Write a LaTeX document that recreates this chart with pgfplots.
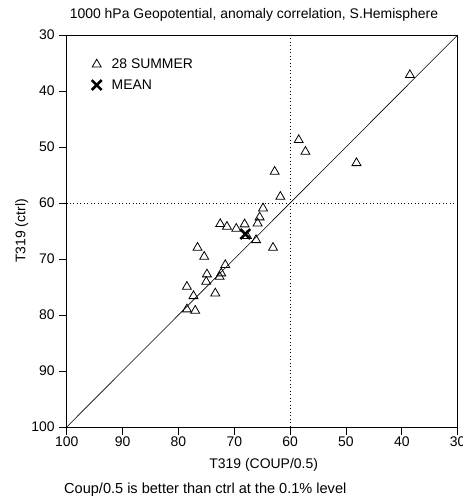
\documentclass[border=0pt]{standalone}
\usepackage{pgfplots}
\pgfplotsset{compat=1.18}
\usepackage{fontspec}
\setmainfont{Liberation Sans}
\begin{document}
\begin{tikzpicture}
\begin{axis}[
  at={(0,0)}, anchor=south west,
  scale only axis,
  width=391bp, height=392bp,
  x dir=reverse, y dir=reverse,
  xmin=30, xmax=100, ymin=30, ymax=100,
  xtick={30,40,...,100}, ytick={30,40,...,100},
  tick align=outside, tick pos=left,
  major tick length=7.5bp,
  axis line style={line width=1pt},
  tick style={line width=0.8pt, black},
  font=\fontsize{14}{16}\selectfont,
  tick label style={font=\fontsize{14}{16}\selectfont},
  xticklabel style={yshift=1bp},
  yticklabel style={xshift=-1bp},
  /pgf/number format/assume math mode=true,
  clip=false,
  legend style={at={(0.056,0.95)}, anchor=north west, draw=none, fill=none,
    font=\fontsize{14}{16}\selectfont, row sep=5.5bp,
    /tikz/every odd column/.style={column sep=8bp}},
  legend cell align=left,
]
\addplot[black, line width=0.6pt, forget plot] coordinates {(100,100) (30,30)};
\addplot[black, line width=0.9pt, dash pattern=on 0.9pt off 2.6pt, forget plot] coordinates {(60,30) (60,100)};
\addplot[black, line width=0.9pt, dash pattern=on 0.9pt off 2.6pt, forget plot] coordinates {(30,60) (100,60)};
\addplot[only marks, mark=triangle, mark size=5.2pt, mark options={black, line width=0.8pt, fill=white}] coordinates {
(58.46,48.75) (57.26,50.84) (62.77,54.41) (61.75,58.88) (64.85,60.95)
(65.46,62.55) (65.82,63.63) (72.51,63.75) (71.31,64.23) (69.64,64.59)
(68.15,63.80) (67.72,65.89) (66.10,66.61) (63.06,67.98) (76.58,67.98)
(75.38,69.59) (71.61,71.07) (74.89,72.73) (72.33,72.55) (72.63,73.16)
(75.02,74.05) (78.48,74.95) (77.30,76.61) (73.40,76.13) (78.48,78.98)
(76.99,79.23) (38.56,37.14) (48.12,52.86)
};
\addlegendentry{28 SUMMER}
\addplot[only marks, mark=x, mark size=7pt, mark options={black, line width=2.6pt}] coordinates {(68.02,65.54)};
\addlegendentry{MEAN}
\end{axis}
\begin{scope}[every node/.style={font=\fontsize{14}{16}\selectfont}]
\node at (187.3bp,412bp) {1000 hPa Geopotential, anomaly correlation, S.Hemisphere};
\node at (197bp,-38bp) {T319 (COUP/0.5)};
\node[rotate=90] at (-45bp,196bp) {T319 (ctrl)};
\node[anchor=west, inner sep=0pt, font=\fontsize{14.6}{16}\selectfont] at (-2.7bp,-63bp) {Coup/0.5 is better than ctrl at the 0.1\% level};
\end{scope}
\pgfresetboundingbox
\path (-66.7bp,-74bp) rectangle (396.3bp,427bp);
\end{tikzpicture}
\end{document}
